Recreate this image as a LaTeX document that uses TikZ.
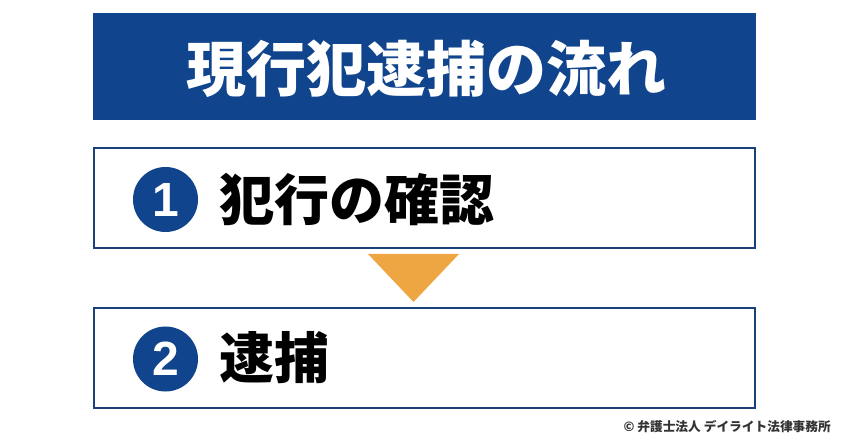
\documentclass[tikz,border=0pt]{standalone}
\usepackage{fontspec}
\setmainfont{Noto Sans CJK JP}
\newfontfamily\numfont{Liberation Sans}
\definecolor{titleblue}{RGB}{16,68,140}
\definecolor{lineblue}{RGB}{26,66,120}
\definecolor{arrowfill}{RGB}{238,166,66}
\definecolor{notegray}{RGB}{51,51,51}
\tikzset{
  titlebox/.style = {rectangle, fill=titleblue, inner sep=0pt,
    minimum width=663bp, minimum height=107bp},% titre
  stepbox/.style = {rectangle, draw=lineblue, line width=1.6bp, fill=white,
    inner sep=0pt, minimum width=661bp, minimum height=100bp},% etape
  numcircle/.style = {circle, fill=titleblue, text=white, inner sep=0pt,
    minimum size=65bp, font=\numfont\bfseries\fontsize{48bp}{48bp}\selectfont},
  steptext/.style = {anchor=base west, inner sep=0pt,
    font=\bfseries\fontsize{55bp}{55bp}\selectfont}
}
\begin{document}
\begin{tikzpicture}[x=1bp,y=-1bp]
\useasboundingbox (0,0) rectangle (850,444);
\node [titlebox] (title) at (424.5,66.5) {};
\node [anchor=base, inner sep=0pt, text=white,
  font=\bfseries\fontsize{60bp}{60bp}\selectfont] (titletext) at (426,92) {現行犯逮捕の流れ};
\node [stepbox] (box1) at (424.5,198) {};
\node [stepbox] (box2) at (424.5,358) {};
\node [numcircle] (num1) at (165.5,199.5) {1};
\node [numcircle] (num2) at (165.5,359) {2};
\node [steptext] (text1) at (219,221) {犯行の確認};
\node [steptext] (text2) at (219,379) {逮捕};
\fill [arrowfill] (368,254) -- (459,254) -- (413.5,302) -- cycle;
\node [anchor=base east, inner sep=0pt, text=notegray,
  font=\bfseries\fontsize{12.7bp}{12.7bp}\selectfont] (credit) at (831,431) {© 弁護士法人 デイライト法律事務所};
\end{tikzpicture}
\end{document}
